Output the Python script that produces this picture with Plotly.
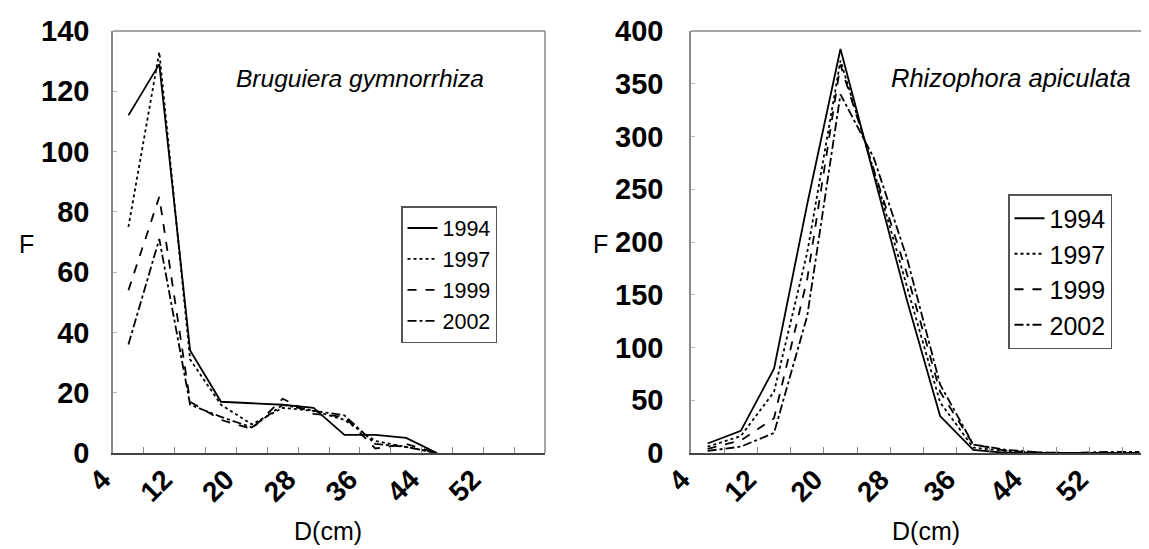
import plotly.graph_objects as go

# ---------------- data ----------------
categories = [4, 8, 12, 16, 20, 24, 28, 32, 36, 40, 44, 48, 52, 56]
label_vals = [4, 12, 20, 28, 36, 44, 52]
years = ["1994", "1997", "1999", "2002"]

# Bruguiera gymnorrhiza (left)
bg_1994 = [112, 129, 34, 17, 16.5, 16, 15, 6, 6, 5, 0]
bg_1997 = [75, 133, 31, 16, 9.5, 15, 14, 11, 4, 2, 0]
bg_1999 = [54, 85, 17, 11, 8, 18, 13, 12, 1.5, 3, 0]
bg_2002 = [36, 71, 16, 12, 8.5, 16, 14, 12.5, 3, 2, 0]

# Rhizophora apiculata (right)
ra_1994 = [9, 21, 80, 236, 383, 265, 145, 35, 3, 0, 0, 0, 0, 0]
ra_1997 = [6, 16, 58, 190, 372, 268, 158, 48, 5, 2, 0, 0, 0, 0]
ra_1999 = [4, 12, 33, 165, 368, 270, 170, 58, 8, 2, 0.5, 0, 0, 0]
ra_2002 = [2, 6, 19, 130, 340, 280, 185, 65, 8, 3, 0.5, 0, 1, 1]

dashes = ["solid", "dot", "dash", "dashdot"]

W, H = 1149, 549
FONT = "Liberation Sans"

fig = go.Figure()

left_series = [bg_1994, bg_1997, bg_1999, bg_2002]
right_series = [ra_1994, ra_1997, ra_1999, ra_2002]

for yr, vals, dsh in zip(years, left_series, dashes):
    fig.add_trace(go.Scatter(
        x=categories[:len(vals)], y=vals, mode="lines", name=yr,
        line=dict(color="black", width=1.8, dash=dsh),
        xaxis="x", yaxis="y", legend="legend"))

for yr, vals, dsh in zip(years, right_series, dashes):
    fig.add_trace(go.Scatter(
        x=categories[:len(vals)], y=vals, mode="lines", name=yr,
        line=dict(color="black", width=1.8, dash=dsh),
        xaxis="x2", yaxis="y2", legend="legend2"))


def px_x(p):
    return p / W


def px_y(p):
    return 1 - p / H


left_dom = [px_x(105), px_x(537)]
right_dom = [px_x(683), px_x(1148)]
y_dom = [px_y(445), px_y(23)]

separators = [c + 2 for c in categories[:-1]]

TICKFONT = dict(family=FONT, size=29, color="black", weight="bold")

xaxis_common = dict(
    range=[categories[0] - 2, categories[-1] + 2],
    tickmode="array", tickvals=label_vals,
    ticktext=[str(v) for v in label_vals],
    tickangle=-45, ticks="", showgrid=False, zeroline=False,
    showline=True, linecolor="#444", linewidth=2, automargin=False,
    tickfont=dict(family=FONT, size=28, color="black", weight="bold"),
    ticklabelshift=-26, ticklabelstandoff=-3,
    minor=dict(tickmode="array", tickvals=separators, ticks="inside",
               ticklen=6, tickcolor="#888", tickwidth=1, showgrid=False),
)

yaxis_common = dict(
    showgrid=False, zeroline=False, showline=True, linecolor="#888",
    linewidth=1.5, ticks="inside", ticklen=4, tickcolor="#bbb",
    tickfont=TICKFONT, automargin=False,
)

fig.update_layout(
    width=W, height=H, margin=dict(l=0, r=0, t=0, b=0, autoexpand=False),
    paper_bgcolor="white", plot_bgcolor="white",
    xaxis=dict(domain=left_dom, anchor="y", **xaxis_common),
    yaxis=dict(domain=y_dom, anchor="x", range=[0, 140], dtick=20,
               tick0=0, ticklabelstandoff=16, **yaxis_common),
    xaxis2=dict(domain=right_dom, anchor="y2", **xaxis_common),
    yaxis2=dict(domain=y_dom, anchor="x2", range=[0, 400], dtick=50,
                tick0=0, ticklabelstandoff=20, **yaxis_common),
    legend=dict(x=px_x(393), y=px_y(198), xanchor="left", yanchor="top",
                bordercolor="#555", borderwidth=1.5, bgcolor="white",
                font=dict(family=FONT, size=21.5, color="black"),
                tracegroupgap=0),
    legend2=dict(x=px_x(1000), y=px_y(186), xanchor="left", yanchor="top",
                 bordercolor="#555", borderwidth=1.5, bgcolor="white",
                 font=dict(family=FONT, size=25, color="black"),
                 tracegroupgap=0),
    showlegend=True,
)

# frame (top and right borders)
for xr, yr_ in [("x domain", "y domain"), ("x2 domain", "y2 domain")]:
    fig.add_shape(type="line", xref=xr, yref=yr_, x0=0, x1=1, y0=1, y1=1,
                  line=dict(color="#888", width=1.5))
    fig.add_shape(type="line", xref=xr, yref=yr_, x0=1, x1=1, y0=0, y1=1,
                  line=dict(color="#888", width=1.5))

# species names
fig.add_annotation(x=px_x(352), y=px_y(70), xref="paper", yref="paper",
                   xanchor="center", yanchor="middle",
                   text="<i>Bruguiera gymnorrhiza</i>", showarrow=False,
                   font=dict(family=FONT, size=24.5, color="black"))
fig.add_annotation(x=px_x(1003), y=px_y(70), xref="paper", yref="paper",
                   xanchor="center", yanchor="middle",
                   text="<i>Rhizophora apiculata</i>", showarrow=False,
                   font=dict(family=FONT, size=25.5, color="black"))

# axis titles
for xp in (18, 592):
    fig.add_annotation(x=px_x(xp), y=px_y(236), xref="paper", yref="paper",
                       xanchor="center", yanchor="middle",
                       text="F", showarrow=False,
                       font=dict(family=FONT, size=25, color="black"))
for xp in (320, 918):
    fig.add_annotation(x=px_x(xp), y=px_y(523), xref="paper", yref="paper",
                       xanchor="center", yanchor="middle",
                       text="D(cm)", showarrow=False,
                       font=dict(family=FONT, size=25, color="black"))

fig.write_html("out.html")
